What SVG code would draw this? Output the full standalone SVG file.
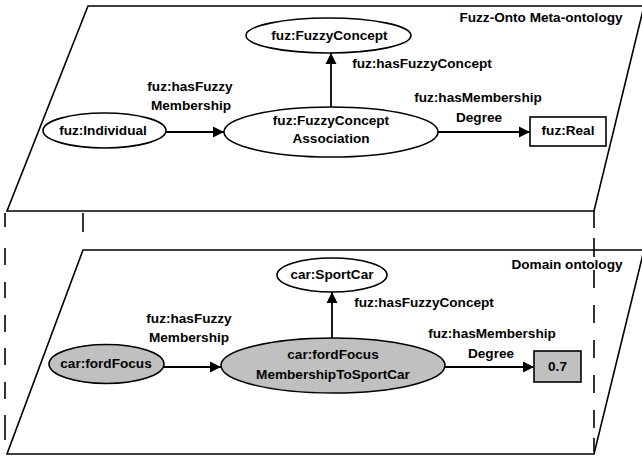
<svg xmlns="http://www.w3.org/2000/svg" width="642" height="461" viewBox="0 0 642 461">
<defs>
<marker id="arr" markerUnits="userSpaceOnUse" markerWidth="12" markerHeight="12" viewBox="0 0 12 12" refX="11" refY="6" orient="auto">
<path d="M0,0.5 L11,6 L0,11.5 Z" fill="#000"/>
</marker>
</defs>
<style>
text{font-family:"Liberation Sans",Arial,sans-serif;font-weight:bold;font-size:13.6px;fill:#000;text-anchor:middle}
.plane{fill:#fff;stroke:#000;stroke-width:1.6}
.node{stroke:#000;stroke-width:1.6}
.white{fill:#fff}
.gray{fill:#c0c0c0}
.conn{stroke:#000;stroke-width:1.8;fill:none;marker-end:url(#arr)}
.dash{stroke:#000;stroke-width:1.6;fill:none}
</style>
<rect width="642" height="461" fill="#fff"/>
<g id="planes">
<polygon class="plane" points="88,6 644,6 594,211 7,211"/>
<path class="dash" d="M5,213 V227 M5,248 V265 M5,282 V298 M5,315 V332 M5,348 V365 M5,382 V399 M5,415 V440"/>
<path class="dash" d="M83,213 V232"/>
<path class="dash" d="M594,211 V228"/>
<polygon class="plane" points="83,250 644,250 594,454 7,454"/>
<path class="dash" d="M594,238 V257 M594,270 V288 M594,305 V323 M594,340 V358 M594,375 V393 M594,410 V428 M594,438 V452"/>
<text x="541" y="22">Fuzz-Onto Meta-ontology</text>
<text x="567" y="269">Domain ontology</text>
</g>
<g id="connectors">
<line class="conn" x1="166" y1="132" x2="224" y2="132"/>
<line class="conn" x1="331" y1="107" x2="331" y2="53"/>
<line class="conn" x1="438" y1="132" x2="530" y2="132"/>
<line class="conn" x1="164" y1="367" x2="221" y2="367"/>
<line class="conn" x1="332" y1="338" x2="332" y2="292"/>
<line class="conn" x1="445" y1="367" x2="534" y2="367"/>
<text x="190" y="91">fuz:hasFuzzy</text>
<text x="191" y="110">Membership</text>
<text x="422" y="68">fuz:hasFuzzyConcept</text>
<text x="478" y="102">fuz:hasMembership</text>
<text x="479" y="122">Degree</text>
<text x="189" y="323">fuz:hasFuzzy</text>
<text x="189" y="342">Membership</text>
<text x="424" y="307">fuz:hasFuzzyConcept</text>
<text x="492" y="338">fuz:hasMembership</text>
<text x="491" y="358">Degree</text>
</g>
<g id="fuz-individual">
<ellipse class="node white" cx="104.5" cy="130.5" rx="61.5" ry="17.5"/>
<text x="103" y="135">fuz:Individual</text>
</g>
<g id="fuz-fuzzyconcept">
<ellipse class="node white" cx="328.5" cy="35.5" rx="82.5" ry="17.5"/>
<text x="329.5" y="40">fuz:FuzzyConcept</text>
</g>
<g id="fuz-fuzzyconceptassociation">
<ellipse class="node white" cx="331" cy="132" rx="107" ry="25"/>
<text x="331" y="125">fuz:FuzzyConcept</text>
<text x="331" y="143">Association</text>
</g>
<g id="fuz-real">
<rect class="node white" x="530" y="117" width="76" height="29"/>
<text x="568" y="135">fuz:Real</text>
</g>
<g id="car-sportcar">
<ellipse class="node white" cx="332" cy="275" rx="55" ry="17"/>
<text x="332" y="279">car:SportCar</text>
</g>
<g id="car-fordfocus">
<ellipse class="node gray" cx="106.5" cy="364" rx="57.5" ry="19.5"/>
<text x="106" y="368">car:fordFocus</text>
</g>
<g id="car-fordfocus-membership">
<ellipse class="node gray" cx="333" cy="365.5" rx="112" ry="27.5"/>
<text x="333" y="359">car:fordFocus</text>
<text x="333" y="379">MembershipToSportCar</text>
</g>
<g id="value-07">
<rect class="node gray" x="534" y="351" width="47" height="31"/>
<text x="557.5" y="371">0.7</text>
</g>
</svg>
